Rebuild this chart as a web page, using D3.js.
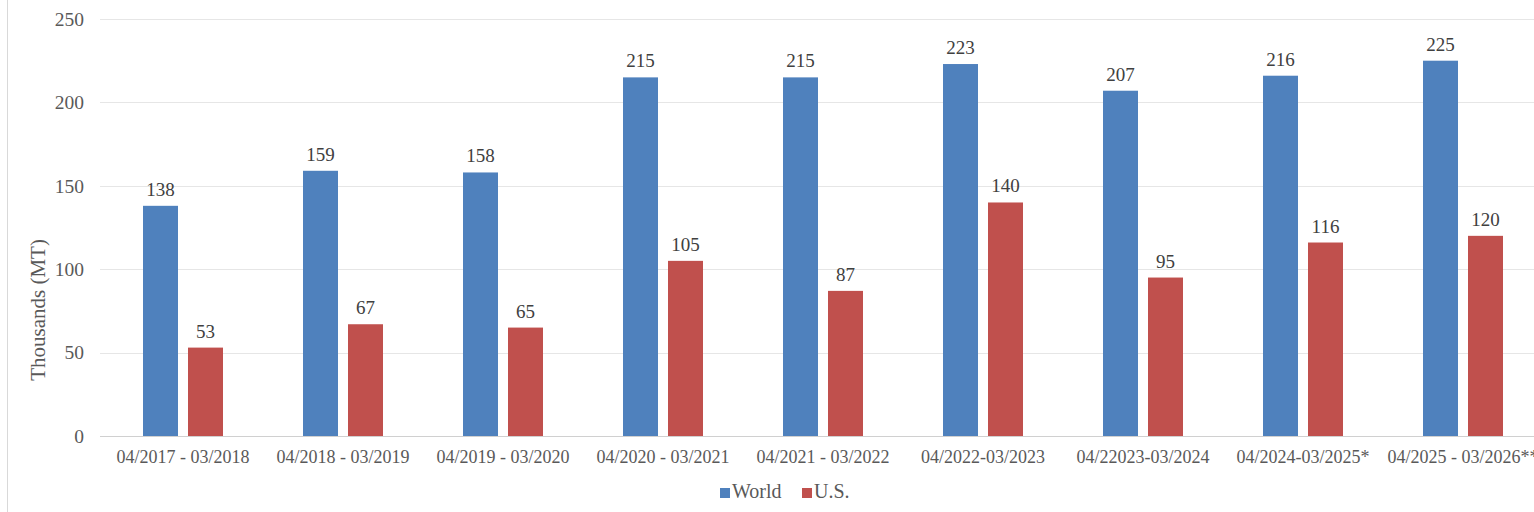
<!DOCTYPE html>
<html>
<head>
<meta charset="utf-8">
<script src="https://cdn.jsdelivr.net/npm/d3@7"></script>
<style>
html,body{margin:0;padding:0;background:#fff;}
svg{display:block;}
text{font-family:"Liberation Serif","Times New Roman",serif;}
</style>
</head>
<body>
<svg id="chart" width="1534" height="512"></svg>
<script>
const categories = ["04/2017 - 03/2018","04/2018 - 03/2019","04/2019 - 03/2020","04/2020 - 03/2021","04/2021 - 03/2022","04/2022-03/2023","04/22023-03/2024","04/2024-03/2025*","04/2025 - 03/2026**"];
const seriesNames = ["World","U.S."];
const worldValues = [138,159,158,215,215,223,207,216,225];
const usValues = [53,67,65,105,87,140,95,116,120];
const yTicks = [0,50,100,150,200,250];
const colors = ["#4F81BD","#C0504D"];

const FONT = "'Liberation Serif','Times New Roman',serif";
const svg = d3.select("#chart");
const W = 1534, H = 512;
const plot = {left:103, right:1543, top:19, bottom:436};

// outer border
svg.append("line").attr("x1",7.5).attr("x2",7.5).attr("y1",0).attr("y2",H)
  .attr("stroke","#d9d9d9").attr("stroke-width",1);

const x = d3.scaleBand().domain(categories).range([plot.left, plot.right]).padding(0);
const y = d3.scaleLinear().domain([0,250]).range([plot.bottom, plot.top]);

// gridlines
svg.append("g").selectAll("line").data(yTicks).join("line")
  .attr("x1",100).attr("x2",W)
  .attr("y1",d=>Math.round(y(d))+0.5).attr("y2",d=>Math.round(y(d))+0.5)
  .attr("stroke",(d)=>d===0?"#d0d0d0":"#e6e6e6").attr("stroke-width",1);

// y axis labels
const yAxis = d3.axisLeft(y).tickValues(yTicks).tickSize(0).tickPadding(0);
const gy = svg.append("g").attr("transform","translate(84,0)").call(yAxis);
gy.attr("font-family",null).attr("font-size",null);
gy.select(".domain").remove();
gy.selectAll("text").attr("font-size","19.5px").attr("fill","#595959")
  .attr("font-family",FONT).attr("dy","0.32em");

// x axis labels
const xAxis = d3.axisBottom(x).tickSize(0).tickPadding(0);
const gx = svg.append("g").attr("transform","translate(0,463)").call(xAxis);
gx.attr("font-family",null).attr("font-size",null);
gx.select(".domain").remove();
gx.selectAll("text").attr("font-size","18px").attr("fill","#595959")
  .attr("font-family",FONT).attr("y",0).attr("dy","0");

// y title
svg.append("text").attr("transform","translate(45,310) rotate(-90)")
  .attr("text-anchor","middle").attr("font-size","21px").attr("fill","#595959")
  .text("Thousands (MT)");

// bars
const barW = 35, gap = 10;
const data = categories.map((c,i)=>({cat:c, vals:[worldValues[i], usValues[i]]}));
const groups = svg.append("g").selectAll("g").data(data).join("g");
groups.each(function(d){
  const g = d3.select(this);
  const cx = x(d.cat) + x.bandwidth()/2;
  d.vals.forEach((v,s)=>{
    const bx = s===0 ? cx - gap/2 - barW : cx + gap/2;
    g.append("rect").attr("x",bx).attr("width",barW)
      .attr("y",y(v)).attr("height",y(0)-y(v)).attr("fill",colors[s]);
    g.append("text").attr("x",bx+barW/2).attr("y",y(v)-10)
      .attr("text-anchor","middle").attr("font-size","19px").attr("fill","#404040")
      .text(v);
  });
});

// legend
const legend = svg.append("g").attr("transform","translate(720,492)");
const legItems = [{name:seriesNames[0], x:0},{name:seriesNames[1], x:82}];
legItems.forEach((it,i)=>{
  legend.append("rect").attr("x",it.x).attr("y",-4).attr("width",10).attr("height",10).attr("fill",colors[i]);
  legend.append("text").attr("x",it.x+12).attr("y",6)
    .attr("font-size","20px").attr("fill","#595959").text(it.name);
});
</script>
</body>
</html>
